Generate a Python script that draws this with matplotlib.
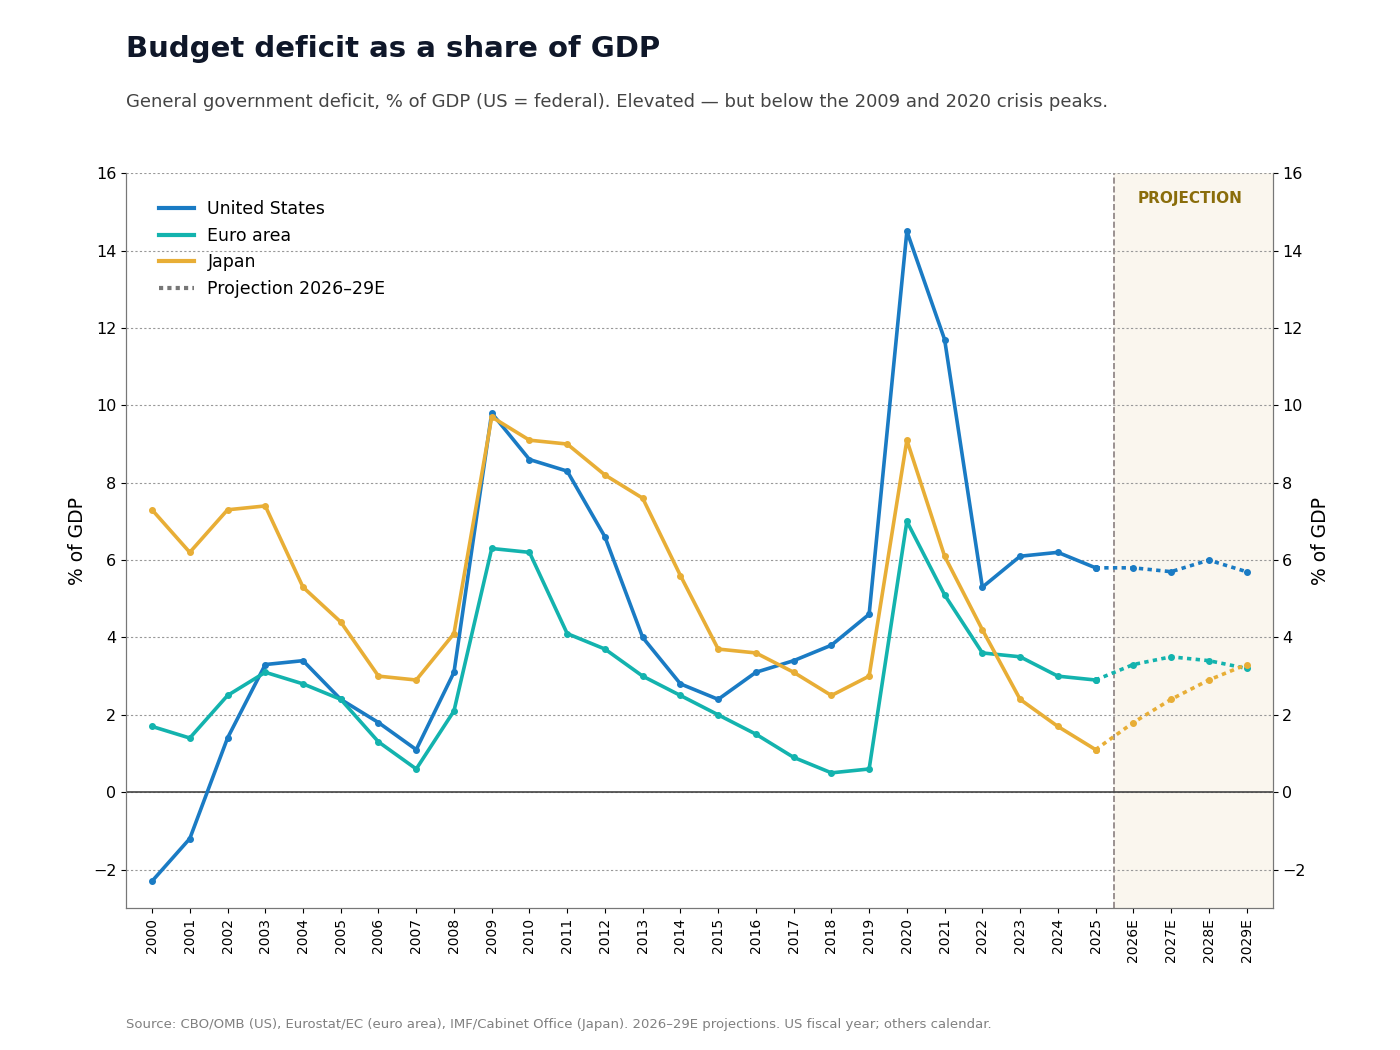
import matplotlib
matplotlib.use("Agg")
import matplotlib.pyplot as plt
from matplotlib.lines import Line2D

YEARS = [str(y) for y in range(2000, 2026)] + ["2026E", "2027E", "2028E", "2029E"]

US = [-2.3, -1.2, 1.4, 3.3, 3.4, 2.4, 1.8, 1.1, 3.1, 9.8, 8.6, 8.3, 6.6, 4.0, 2.8,
      2.4, 3.1, 3.4, 3.8, 4.6, 14.5, 11.7, 5.3, 6.1, 6.2, 5.8]
US_PROJ = [5.8, 5.7, 6.0, 5.7]
EURO = [1.7, 1.4, 2.5, 3.1, 2.8, 2.4, 1.3, 0.6, 2.1, 6.3, 6.2, 4.1, 3.7, 3.0, 2.5,
        2.0, 1.5, 0.9, 0.5, 0.6, 7.0, 5.1, 3.6, 3.5, 3.0, 2.9]
EURO_PROJ = [3.3, 3.5, 3.4, 3.2]
JAPAN = [7.3, 6.2, 7.3, 7.4, 5.3, 4.4, 3.0, 2.9, 4.1, 9.7, 9.1, 9.0, 8.2, 7.6, 5.6,
         3.7, 3.6, 3.1, 2.5, 3.0, 9.1, 6.1, 4.2, 2.4, 1.7, 1.1]
JAPAN_PROJ = [1.8, 2.4, 2.9, 3.3]

SERIES = [
    ("United States", US, US_PROJ, "#1a7bc4"),
    ("Euro area", EURO, EURO_PROJ, "#13b3ae"),
    ("Japan", JAPAN, JAPAN_PROJ, "#e8ae36"),
]

fig = plt.figure(figsize=(14, 10.5), dpi=100)
ax = fig.add_axes([0.09, 0.135, 0.819, 0.70])

n_hist = len(US)
x_hist = list(range(n_hist))
x_proj = list(range(n_hist - 1, len(YEARS)))

ax.axvspan(n_hist - 0.5, len(YEARS) - 0.31, color="#faf6ee", zorder=0)
ax.axvline(n_hist - 0.5, color="#8a8080", linestyle="--", linewidth=1.2, zorder=1)
ax.text(n_hist + 1.5, 15.35, "PROJECTION", color="#8a6d0b", fontsize=11,
        fontweight="bold", ha="center", va="center")

for label, hist, proj, color in SERIES:
    ax.plot(x_hist, hist, color=color, linewidth=2.6, marker="o", markersize=4, zorder=3)
    ax.plot(x_proj, [hist[-1]] + proj, color=color, linewidth=2.6, linestyle=(0, (1.2, 1.2)),
            marker="o", markersize=4, zorder=3)

ax.axhline(0, color="#444444", linewidth=1.2, zorder=2)
ax.set_xlim(-0.69, len(YEARS) - 0.31)
ax.set_ylim(-3, 16)
ticks = list(range(-2, 17, 2))
tick_labels = [("\u2212" + str(-v)) if v < 0 else str(v) for v in ticks]
ax.set_yticks(ticks)
ax.set_yticklabels(tick_labels)
ax.set_xticks(range(len(YEARS)))
ax.set_xticklabels(YEARS, rotation=90, fontsize=10)
ax.tick_params(axis="y", labelsize=11.5)
ax.grid(axis="y", color="#999999", linestyle=(0, (2, 2)), linewidth=0.8)
ax.set_ylabel("% of GDP", fontsize=13.5)

ax2 = ax.twinx()
ax2.set_ylim(ax.get_ylim())
ax2.set_yticks(ticks)
ax2.set_yticklabels(tick_labels)
ax2.tick_params(axis="y", labelsize=11.5)
ax2.set_ylabel("% of GDP", fontsize=13.5)
for a in (ax, ax2):
    a.spines["top"].set_visible(False)
    for s in ("left", "right", "bottom"):
        a.spines[s].set_color("#777777")

handles = [Line2D([], [], color=c, linewidth=3) for _, _, _, c in SERIES]
handles.append(Line2D([], [], color="#777777", linewidth=3, linestyle=(0, (1, 1))))
labels = [s[0] for s in SERIES] + ["Projection 2026\u201329E"]
ax.legend(handles, labels, loc="upper left", frameon=False, fontsize=12.5,
          bbox_to_anchor=(0.015, 0.985))

fig.text(0.09, 0.953, "Budget deficit as a share of GDP", fontsize=21, fontweight="bold",
         color="#0f1729", va="center")
fig.text(0.09, 0.903, "General government deficit, % of GDP (US = federal). Elevated \u2014 but "
         "below the 2009 and 2020 crisis peaks.", fontsize=13, color="#444444", va="center")
fig.text(0.09, 0.024, "Source: CBO/OMB (US), Eurostat/EC (euro area), IMF/Cabinet Office (Japan). "
         "2026\u201329E projections. US fiscal year; others calendar.", fontsize=9.5,
         color="#808080", va="center")

fig.savefig("out.png", dpi=100)
